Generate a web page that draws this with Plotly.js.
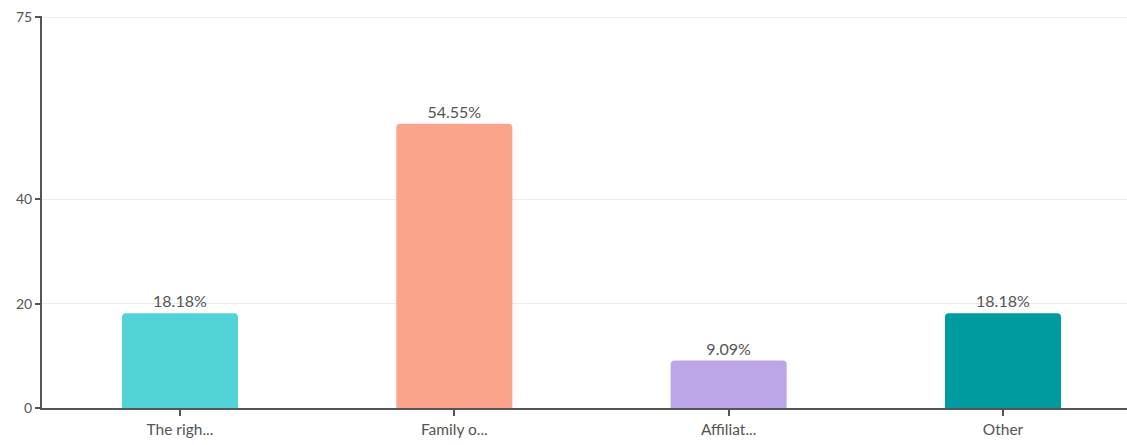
<!DOCTYPE html>
<html>
<head>
<meta charset="utf-8">
<script src="https://cdn.plot.ly/plotly-3.0.1.min.js"></script>
<style>
  html, body { margin: 0; padding: 0; background: #fff; }
  #chart { width: 1127px; height: 445px; }
</style>
</head>
<body>
<div id="chart"></div>
<script>
const categories = ["The righ...", "Family o...", "Affiliat...", "Other"];
const values = [18.18, 54.55, 9.09, 18.18];
const barColors = ["#52D3D8", "#FCA48B", "#BBA6E8", "#009B9F"];
const yTickVals = [0, 20, 40, 75];

const labels = values.map(v => v.toFixed(2) + "%");

const trace = {
  type: "bar",
  x: categories,
  y: values,
  text: labels,
  textposition: "outside",
  cliponaxis: false,
  textfont: { family: "Lato, 'Open Sans', sans-serif", size: 16, color: "#555" },
  marker: { color: barColors, cornerradius: 4 },
  width: 0.423,
  hoverinfo: "skip"
};

const layout = {
  width: 1127,
  height: 445,
  margin: { l: 42, r: 0, t: 16, b: 37, pad: 0 },
  paper_bgcolor: "#fff",
  plot_bgcolor: "#fff",
  showlegend: false,
  font: { family: "Lato, 'Open Sans', sans-serif", size: 14, color: "#555" },
  xaxis: {
    type: "category",
    range: [-0.503, 3.452],
    showline: true,
    linecolor: "#555",
    linewidth: 2,
    ticks: "outside",
    ticklen: 6,
    tickwidth: 2,
    tickcolor: "#555",
    showgrid: false,
    zeroline: false,
    tickfont: { size: 15.5, color: "#555" },
    fixedrange: true
  },
  yaxis: {
    range: [0, 75.2],
    tickmode: "array",
    tickvals: yTickVals,
    ticktext: yTickVals.map(String),
    showline: true,
    linecolor: "#555",
    linewidth: 2,
    ticks: "outside",
    ticklen: 5,
    tickwidth: 2,
    tickcolor: "#555",
    showgrid: true,
    gridcolor: "#ececec",
    gridwidth: 1,
    zeroline: false,
    tickfont: { size: 14, color: "#555" },
    ticklabelstandoff: 0,
    fixedrange: true
  }
};

Plotly.newPlot("chart", [trace], layout, { displayModeBar: false, staticPlot: true });
</script>
</body>
</html>
